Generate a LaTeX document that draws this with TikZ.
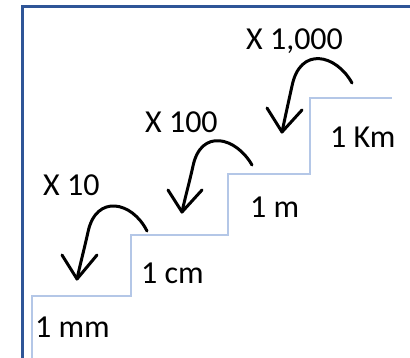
\documentclass[tikz,border=0pt]{standalone}
\usepackage{fontspec}
\setmainfont{Carlito}
\definecolor{framec}{HTML}{2F5597}
\definecolor{stairc}{HTML}{B4C7E7}
\tikzset{
  lbl/.style={anchor=base west, inner sep=0pt, font=\fontsize{32}{38}\selectfont},
  frameline/.style={draw=framec, line width=3pt},
  stairline/.style={draw=stairc, line width=1.5pt},
  jump/.style={draw=black, line width=3pt, line cap=round, line join=round}
}
\begin{document}
\begin{tikzpicture}[x=1pt,y=-1pt]
\useasboundingbox (0,0) rectangle (410,357);
% frame
\draw[frameline] (22,360) -- (22,6.5) -- (413,6.5);
% stairs
\draw[stairline] (32,360) -- (32,296) -- (131,296) -- (131,235) -- (228,235) -- (228,174) -- (310,174) -- (310,98) -- (392,98);
% labels
\node[lbl] (mm) at (35,337) {1 mm};
\node[lbl] (cm) at (141,283) {1 cm};
\node[lbl] (m) at (250,217) {1 m};
\node[lbl] (km) at (330,147) {1 Km};
\node[lbl] (x10) at (43,195) {X 10};
\node[lbl] (x100) at (145,132) {X 100};
\node[lbl] (x1000) at (246,49) {X 1,000};
% jump arrows
\coordinate (s1) at (352,83); \coordinate (t1) at (282,132);
\draw[jump] (s1) .. controls (336,54) and (300,46) .. (292,86) .. controls (288,104) and (285,118) .. (t1);
\draw[jump] (267,108) -- (t1) -- (302,110);
\coordinate (s2) at (252,165); \coordinate (t2) at (182,212);
\draw[jump] (s2) .. controls (236,137) and (201,128) .. (193,166) .. controls (189,184) and (185,198) .. (t2);
\draw[jump] (168,190) -- (t2) -- (202,190);
\coordinate (s3) at (147,231); \coordinate (t3) at (77,279);
\draw[jump] (s3) .. controls (132,201) and (96,194) .. (88,232) .. controls (84,250) and (80,265) .. (t3);
\draw[jump] (62,255) -- (t3) -- (97,255);
\end{tikzpicture}
\end{document}
